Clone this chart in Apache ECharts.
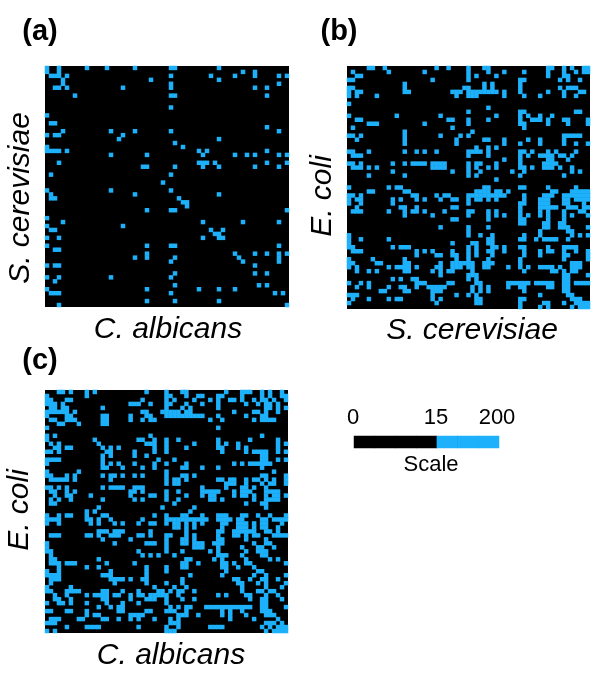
<!DOCTYPE html>
<html><head><meta charset="utf-8">
<style>html,body{margin:0;padding:0;background:#fff}#c{width:600px;height:679px}</style>
<script src="https://cdn.jsdelivr.net/npm/echarts@6/dist/echarts.min.js"></script>
</head><body><div id="c"></div>
<script>
// Each list holds, row by row from the top, the column indices whose score is above 15.
const panelA = [
[0,3,10,15,22,31,32,43],[0,3,49,52],[1,2,3,5,31,41,47,52,58,60],[4,26,43],[4,31,58],[2,3,5,19,31,52,55],[],[7,31,32,55],[],[],
[31],[],[0],[],[1,2],[55],[4,16,22,31,58],[0,2,3,19],[18,43],[32],
[0,34],[0,1,2,3,5,38,40,55],[16,25,39,47,50,52,58,60],[],[3,38,39,40,42,55,60],[24,25,32,39,43,52,58],[],[1,31],[],[29],
[],[0,16,31],[1,22,43],[1,2,33],[34,35],[35],[25,31,32,60],[],[0],[4,39,49,58],
[0,19],[1,2,41,44],[42,43],[0,3,39,43,44],[],[0,25,31,32,58],[2,3],[25,47,52,55,58,60],[22,25,32,48,58],[31,49,58],
[0,2,3,52],[],[32,52,55],[0,3,16,31],[2],[32,53,55],[0,25,38,43,47],[1,2,3,31,57,59],[],[25,32,43],
[3,60]];
const panelB = [
[5,6,9,22,25,30,34,35,50,51,54,56,59,60],
[1,10,19,30,35,39,44,50,54,57,59,60],
[2,3,30,32,37,50,54,55],
[0,1,21,30,43,44,53,55,58],
[14,34,36,43],
[0,1,14,29,30,34,36,43,53,55,56,57],
[0,2,3,14,15,26,27,28,30,31,32,33,34,35,36,37,39,43,50,54,58,59],
[0,2,7,27,30,31,32,39,44,48,54,57],
[],
[0],
[35],
[30,43,44,57,58],
[0,12,23,37,43,45,48,51],
[2,3,25,26,30,35,43,46,47,48,50,54,55,60],
[5,6,7,19,30,43,44,50,55,60],
[1,26,44],
[14,31],
[0,1,3,14,23,28,30,54,55,56,57,58],
[2,14,27,34,35,39,45,48,54],
[14,27,39,43,48,54,57,60],
[32,35,37],
[0,1,5,14,17,19,22,30,31,32,33,35,43,44,46,50,52,57],
[1,2,3,30,35,43,45,48,49,50,51,53,54,56],
[39,43,50,51,55],
[0,1,3,11,14,16,17,18,19,21,22,23,24,30,32,33,37,43,49,50,51,52],
[1,2,3,5,7,21,22,23,24,30,32,35,37,43,44,46,49,50,51,53,56],
[11,26,30,33,41,44,56,58],
[5,14,30,32,43,54],
[37],
[],
[0,10,12,13,34,35,43,44,50,57],
[5,6,14,15,32,33,34,35,37,38,40,51,52,56,57,58,59,60],
[0,1,3,16,17,22,24,25,30,31,32,33,34,35,36,37,38,39,44,49,50,51,54,55,56,57,58,59,60],
[0,2,3,11,13,17,19,23,26,27,30,32,33,35,37,44,48,49,50,54,55,57,58,59,60],
[0,3,11,30,43,44,48,49,50,54,55,59],
[2,13,14,17,26,27,43,48,49,50,51,52,55,56,57,59,60],
[1,2,3,10,14,16,17,19,24,30,31,35,37,43,48,50,54,58,59],
[14,21,30,35,37,39,43,45,48,50,54,56,60],
[26,27,35,43,44,50,54],
[43,44,49,50,53,54],
[23,30,35,49,50,53,54,55,60],
[30,48,55,56],
[0,30,33,36,44,48,56,58,60],
[0,3,10,35,36,43,44,47,49,50,51,52,55],
[0,26,31,32,35,36],
[0,1,11,13,14,15,30,32,36,37,39,43,44,50,54,55,56,57],
[1,2,3,17,19,21,26,30,32,35,36,39,44,48,50,51,54,57,60],
[17,22,23,26,27,30,32,36,44,48,54,55,60],
[0,6,14,27,30,35,43,54,60],
[0,1,7,8,14,15,23,26,27,28,29,30,31,34,35,36,43,56,57,58],
[0,2,10,12,13,14,15,17,22,23,26,27,28,30,31,34,35,40,43,45,48,49,50,51,53,56,57,58],
[2,5,7,14,15,21,23,25,26,31,44,51,52,54,56,57],
[23,30,31,32,54,55,60],
[11,13,16,17,30,32,54,55],
[0,3,5,17,18,19,25,26,32,33,40,41,42,43,44,45,47,48,49,50,51,54,55,57,58,59,60],
[2,5,10,13,14,17,20,21,22,23,24,31,33,35,40,43,44,50,51,54,55],
[8,9,14,15,21,22,23,31,33,35,44,54,55],
[0,1,2,21,27,30,32,48,55,56],
[1,5,10,12,13,21,23,32,33,43,44,56,57,58],
[0,22,32,33,43,49,50,54,57,58,59,60],
[43,48,50,56,58,59,60]];
const panelC = [
[3,4,6,10,12,25,30,34,35,45,49,50,51,54,56,59],
[0,10,30,31,35,38,39,43,44,49,54,56,59,60],
[0,1,5,6,24,30,32,37,41,43,46,47,49,52,54,55,57,60],
[0,1,2,4,21,22,23,26,30,31,35,39,43,50,53,55,56,58],
[1,2,4,5,14,30,34,36,43,55,56,58,60],
[0,1,2,3,4,5,7,24,25,29,30,31,32,33,35,36,47,52,53,55,58],
[0,5,6,14,15,21,25,26,30,31,32,33,34,35,36,37,38,39,43,50,54,55],
[1,2,5,6,7,14,15,21,24,26,27,41,44,52,54,55,56,57],
[3,4,8,14,15],
[0,43],
[],
[0,2,26,54],
[0,12,23,24,27,30,33,43,51,58],
[1,3,13,25,26,27,30,37,43,45,48,58,60],
[2,3,5,6,14,16,18,27,30,35,43,44,48,50,58],
[0,1,3,15,16,22,27,30,44,50,52,53,54,55,58,60],
[14,16,22,25,54,55],
[0,1,2,3,14,28,32,54,55,58,60],
[0,14,16,18,22,27,30,35,47,49,51,52,53,54,55,56],
[14,15,19,24,27,34,35,39,43,54],
[0,8,30,57],
[0,1,5,7,14,16,17,19,22,24,30,34,35,37,54,55,60],
[1,2,3,4,5,7,16,30,32,33,35,43,44,46,47,50,52,53,55,57,60],
[30,32,33,45,46,47,50,54,56,57,60],
[0,1,3,5,14,16,17,18,19,22,23,24,39,45,49,50,52,55],
[1,2,5,7,21,22,24,30,33,39,40,41,42,43,47,49,50,51,55,56,57,58],
[2,5,6,11,21,26,27,30,35,39,41,42,47,49,50,52,55,57,58,60],
[1,3,6,14,22,24,30,33,41,42,44,52,55,56,57,58],
[1,2,32,50,54,55],
[13,29,37,55],
[10,12,36],
[0,3,5,6,10,14,15,27,30,34,35,39,43,44,45,49,50,53,56,60],
[0,1,2,3,10,11,13,16,24,30,31,32,33,34,35,36,37,38,39,40,43,44,45,46,48,49,54,55,57,58,59,60],
[0,3,11,13,17,19,23,26,27,30,32,33,35,37,39,44,45,48,49,50,52,54,55,59],
[32,33,35,37,44,48,49,50,52,54,55,58],
[13,14,15,17,18,19,26,35,43,44,47,48,49,50,51,52,55,56,58],
[1,2,3,10,11,13,16,17,18,23,24,26,30,31,35,37,43,47,48,50,52,53,57,58,59,60],
[14,21,30,34,35,37,43,44,50,55],
[0,17,25,26,27,30,34,35,37,38,39,42,43,44,52,55,56],
[0,30,37,38,39,43,49,53,54,57],
[0,1,23,30,34,41,43,50,53,54,55],
[1,24,26,28,32,43,44,45,49,54,55],
[1,2,13,35,36,42,44,50,56,58],
[1,2,3,5,6,7,15,22,34,35,38,44,45,47,50,51,60],
[3,10,13,25,30,34,35,44,45,48,52],
[0,3,16,25,30,45,53,54],
[0,1,2,3,14,15,16,25,36,44,52,55,60],
[1,2,3,16,17,18,19,21,24,25,34,47,48,51,54,55,58],
[1,17,25,30,34,48,49,53,55,60],
[0,6,27,32,35,49,55,59],
[0,1,5,6,7,8,14,15,19,23,28,29,31,33,34,37,49,53,54,56,57],
[2,5,10,12,13,14,15,17,18,21,23,24,26,27,28,29,30,33,43,45,50,51,55,58],
[2,3,6,14,15,21,25,26,27,30,34,37,51,54,55,59],
[0,3,4,6,10,15,19,23,30,54,55],
[13,16,18,19,31,33,35,36,40,41,42,43,44,45,46,47,48,49,50,51,54,55,60],
[0,1,5,6,10,18,19,25,26,30,31,32,35,44,46,49,54,55,56],
[10,12,13,21,22,23,24,33,34,35,38,44,46,50,55,56,57],
[1,2,3,8,9,14,15,18,21,23,27,31,33,46,52,58],
[0,1,2,31,32,33,55,56,57,59],
[5,10,11,12,13,23,30,33,41,42,43,44,54,56,58,59,60],
[0,2,30,31,32,55,57,58,59,60]
];
const scaleCells = [0,0,0,0,200,200,200];
const scaleTicks = ['0','15','200'];
const panelLetters = ['(a)','(b)','(c)'];
const axisNames = ['S. cerevisiae','C. albicans','E. coli','S. cerevisiae','E. coli','C. albicans'];

const idx = n => Array.from({length:n},(_,i)=>i);
const cells = rows => rows.flatMap((cols,r)=>cols.map(c=>[c,r,200]));
const boxes = [
 {left:45,top:66,width:244,height:241},
 {left:347,top:66,width:243,height:243},
 {left:45,top:390,width:243,height:243},
 {left:354,top:436,width:145,height:12}
];
const sets = [cells(panelA),cells(panelB),cells(panelC),scaleCells.map((v,i)=>[i,0,v])];
const grid = boxes.map(b=>Object.assign({},b,{show:true,backgroundColor:'#000',borderWidth:0,containLabel:false}));
const xAxis = boxes.map((b,i)=>({type:'category',gridIndex:i,data:idx(i<3?61:scaleCells.length),show:false}));
const yAxis = boxes.map((b,i)=>({type:'category',gridIndex:i,inverse:true,data:idx(i<3?61:1),show:false}));
const series = sets.map((d,i)=>({type:'heatmap',xAxisIndex:i,yAxisIndex:i,data:d,progressive:0,animation:false,emphasis:{disabled:true}}));
const blue = '#1eb1fb';
const T = (text,x,y,size,extra) => ({type:'text',x,y,style:Object.assign({text,fill:'#000',fontFamily:'Liberation Sans',fontSize:size,textAlign:'center',textVerticalAlign:'middle'},extra||{})});
const V = (text,x,y,size) => ({type:'text',x,y,rotation:Math.PI/2,style:{text,fill:'#000',fontFamily:'Liberation Sans',fontStyle:'italic',fontSize:size,textAlign:'center',textVerticalAlign:'middle'}});
const it = {fontStyle:'italic'}, bd = {fontWeight:'bold'};
const chart = echarts.init(document.getElementById('c'),null,{renderer:'canvas'});
chart.setOption({
 animation:false,
 backgroundColor:'#fff',
 grid,xAxis,yAxis,series,
 visualMap:{show:false,type:'piecewise',seriesIndex:[0,1,2,3],pieces:[{lte:15,color:'#000'},{gt:15,color:blue}]},
 graphic:[
  T(panelLetters[0],40,32,29,bd),T(panelLetters[1],339,32,29,bd),T(panelLetters[2],40,361,29,bd),
  V(axisNames[0],21,198,30),T(axisNames[1],168,330,30,it),
  V(axisNames[2],323,196,30),T(axisNames[3],472,331,30,it),
  V(axisNames[4],20,510,30),T(axisNames[5],171,656,30,it),
  T(scaleTicks[0],353,418,22),T(scaleTicks[1],436,418,22),T(scaleTicks[2],497,418,22),
  T('Scale',431,465,22)
 ]
});
</script></body></html>
